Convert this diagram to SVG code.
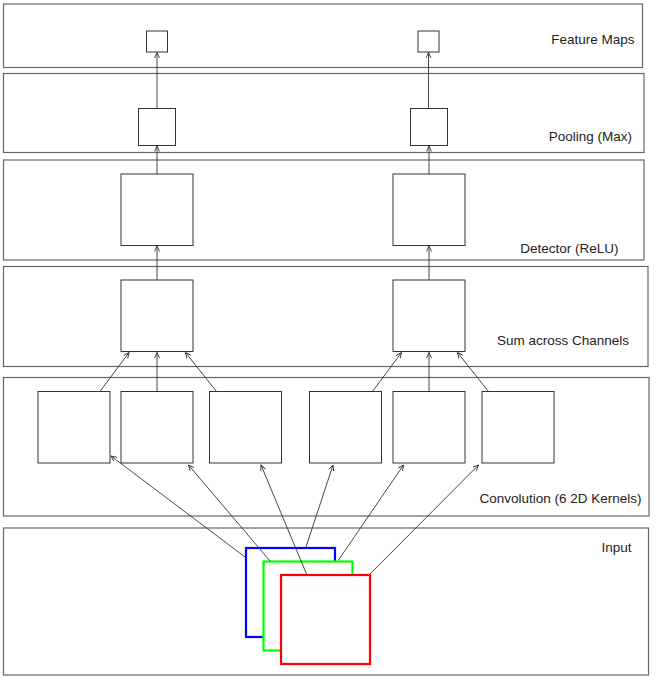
<svg xmlns="http://www.w3.org/2000/svg" width="661" height="678" viewBox="0 0 661 678">
<style>
.band{fill:#fff;stroke:#666;stroke-width:1.2}
.box{fill:#fff;stroke:#333;stroke-width:1}
.lbl{font-family:"Liberation Sans",Arial,sans-serif;font-size:13.5px;fill:#222;text-anchor:end}
.arr{stroke:#333;stroke-width:0.9;fill:none;marker-end:url(#ah)}
.in{fill:#fff;stroke-width:2.2}
</style>
<defs>
<marker id="ah" markerUnits="userSpaceOnUse" markerWidth="10" markerHeight="10" refX="6" refY="3" orient="auto">
<path d="M0.5,0.5 L6,3 L0.5,5.5" fill="none" stroke="#333" stroke-width="0.9"/>
</marker>
</defs>
<rect width="661" height="678" fill="#fff"/>
<g id="layers">
<g id="layer-feature"><rect class="band" x="3.5" y="4" width="639" height="63.5"/><text class="lbl" x="634.5" y="44">Feature Maps</text></g>
<g id="layer-pooling"><rect class="band" x="3.5" y="73.5" width="640.5" height="79"/><text class="lbl" x="632" y="141">Pooling (Max)</text></g>
<g id="layer-detector"><rect class="band" x="3.5" y="160" width="640.5" height="100"/><text class="lbl" x="618.5" y="253">Detector (ReLU)</text></g>
<g id="layer-sum"><rect class="band" x="3.5" y="266.5" width="644.5" height="100"/><text class="lbl" x="629" y="344.5">Sum across Channels</text></g>
<g id="layer-conv"><rect class="band" x="3.5" y="377.5" width="645.5" height="138.5"/><text class="lbl" x="641.5" y="503">Convolution (6 2D Kernels)</text></g>
<g id="layer-input"><rect class="band" x="3.5" y="528" width="645" height="147"/><text class="lbl" x="631.5" y="551.5">Input</text></g>
</g>
<g id="nodes">
<rect id="fm1" class="box" x="146.5" y="31" width="21" height="21"/>
<rect id="fm2" class="box" x="418" y="31" width="21" height="21"/>
<rect id="pool1" class="box" x="138.5" y="108.5" width="37" height="37"/>
<rect id="pool2" class="box" x="410.5" y="108.5" width="37" height="37"/>
<rect id="det1" class="box" x="121" y="174" width="72" height="71.5"/>
<rect id="det2" class="box" x="393" y="174" width="72" height="71.5"/>
<rect id="sum1" class="box" x="121" y="280" width="72" height="71.5"/>
<rect id="sum2" class="box" x="393" y="280" width="72" height="71.5"/>
<rect id="conv1" class="box" x="38" y="391.5" width="72" height="71.5"/>
<rect id="conv2" class="box" x="121" y="391.5" width="72" height="71.5"/>
<rect id="conv3" class="box" x="209.5" y="391.5" width="72" height="71.5"/>
<rect id="conv4" class="box" x="309.5" y="391.5" width="72" height="71.5"/>
<rect id="conv5" class="box" x="393" y="391.5" width="72" height="71.5"/>
<rect id="conv6" class="box" x="482" y="391.5" width="72" height="71.5"/>
</g>
<g id="input-channels">
<rect id="ch-blue" class="in" x="246" y="548" width="89" height="89" stroke="#0000ff"/>
<rect id="ch-green" class="in" x="263.5" y="561.5" width="89" height="89" stroke="#00ff00"/>
<rect id="ch-red" class="in" x="281" y="575" width="89" height="89" stroke="#ff0000"/>
</g>
<g id="connectors">
<line class="arr" x1="157" y1="108.5" x2="157" y2="52.5"/>
<line class="arr" x1="428.5" y1="108.5" x2="428.5" y2="52.5"/>
<line class="arr" x1="157" y1="174" x2="157" y2="146"/>
<line class="arr" x1="429" y1="174" x2="429" y2="146"/>
<line class="arr" x1="157" y1="280" x2="157" y2="246"/>
<line class="arr" x1="429" y1="280" x2="429" y2="246"/>
<line class="arr" x1="100" y1="391.5" x2="129" y2="352.5"/>
<line class="arr" x1="157" y1="391.5" x2="157" y2="352.5"/>
<line class="arr" x1="216.5" y1="391.5" x2="185.5" y2="352.5"/>
<line class="arr" x1="372.5" y1="391.5" x2="401.5" y2="352.5"/>
<line class="arr" x1="429" y1="391.5" x2="429" y2="352.5"/>
<line class="arr" x1="488.5" y1="391.5" x2="457.5" y2="352.5"/>
<line class="arr" x1="245" y1="557" x2="111" y2="456"/>
<line class="arr" x1="270" y1="561" x2="188.5" y2="465"/>
<line class="arr" x1="306.5" y1="574" x2="261" y2="465"/>
<line class="arr" x1="306" y1="547" x2="333" y2="465"/>
<line class="arr" x1="338.5" y1="560" x2="403.5" y2="465"/>
<line class="arr" x1="370" y1="574" x2="478.5" y2="465"/>
</g>
</svg>
